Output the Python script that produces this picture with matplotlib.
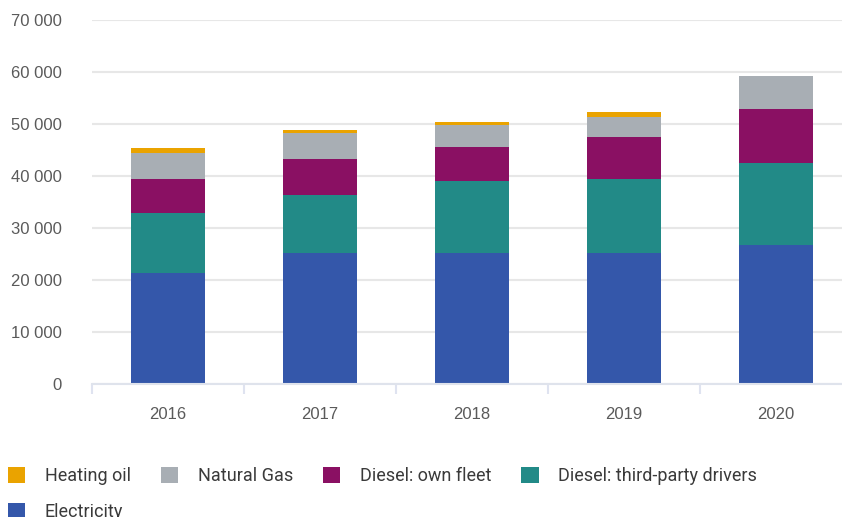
import matplotlib
matplotlib.use("Agg")
import matplotlib.pyplot as plt
from matplotlib.patches import Patch
from matplotlib.ticker import FuncFormatter, FixedLocator

years = ["2016", "2017", "2018", "2019", "2020"]
electricity = [21300, 25100, 25150, 25150, 26650]
diesel_third = [11500, 11200, 13800, 14200, 15750]
diesel_own = [6550, 6900, 6550, 8050, 10400]
natural_gas = [4950, 5000, 4200, 3800, 6350]
heating_oil = [1000, 600, 600, 1000, 0]

series = [
    ("Electricity", electricity, "#3457AA"),
    ("Diesel: third-party drivers", diesel_third, "#228A87"),
    ("Diesel: own fleet", diesel_own, "#8A1063"),
    ("Natural Gas", natural_gas, "#A8AEB4"),
    ("Heating oil", heating_oil, "#EAA300"),
]

plt.rcParams['font.family'] = ['Liberation Sans', 'DejaVu Sans']

fig = plt.figure(figsize=(8.42, 5.17), dpi=100)
W, H = 842, 517
left_px, right_px, top_px, bot_px = 92, 842, 19.7, 383.7
ax = fig.add_axes([left_px / W, 1 - bot_px / H, (right_px - left_px) / W, (bot_px - top_px) / H])

x = list(range(len(years)))
bottom = [0] * len(years)
for name, vals, col in series:
    ax.bar(x, vals, width=0.49, bottom=bottom, color=col, zorder=3, linewidth=0)
    bottom = [b + v for b, v in zip(bottom, vals)]

ax.set_xlim(-0.5, -0.5 + (right_px - left_px) / 152)
ax.set_ylim(0, 70000)
ax.set_yticks(range(0, 70001, 10000))
ax.yaxis.set_major_formatter(FuncFormatter(lambda v, p: f"{int(v):,}".replace(",", " ")))
ax.grid(axis='y', color='#e7e7e7', linewidth=1.5, zorder=0)
ax.set_axisbelow(True)

for s in ['top', 'right', 'left']:
    ax.spines[s].set_visible(False)
ax.spines['bottom'].set_color('#dfe3ec')
ax.spines['bottom'].set_linewidth(1.5)
ax.spines['bottom'].set_zorder(4)

ax.set_xticks(x)
ax.set_xticklabels(years)
ax.xaxis.set_minor_locator(FixedLocator([-0.5, 0.5, 1.5, 2.5, 3.5]))
ax.tick_params(axis='x', which='major', length=0, pad=16.5, labelsize=12, labelcolor='#5a5a5a')
ax.tick_params(axis='x', which='minor', length=7, width=1.5, color='#dfe3f0')
ax.tick_params(axis='y', length=0, pad=21.6, labelsize=12, labelcolor='#5a5a5a')

order = ["Heating oil", "Electricity", "Natural Gas", "Diesel: own fleet", "Diesel: third-party drivers"]
cmap = {n: c for n, _, c in series}
handles = [Patch(facecolor=cmap[n], edgecolor='none') for n in order]
fig.legend(handles, order, loc='upper left', bbox_to_anchor=(8 / W, 1 - 467 / H),
           ncol=4, frameon=False, borderpad=0, borderaxespad=0,
           handlelength=0.96, handleheight=0.95, handletextpad=1.08,
           columnspacing=1.66, labelspacing=1.0,
           prop={'family': ['Roboto', 'DejaVu Sans'], 'size': 13}, labelcolor='#3a3a3a')

fig.savefig("out.png", dpi=100)
